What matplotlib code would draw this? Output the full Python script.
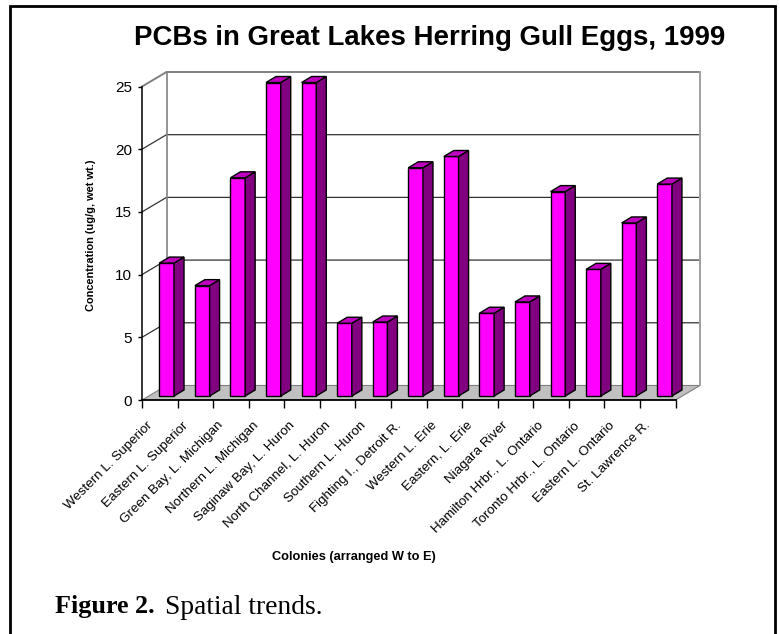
import numpy as np
import matplotlib
matplotlib.use("Agg")
import matplotlib.pyplot as plt
from matplotlib.lines import Line2D

colonies = ["Western L. Superior", "Eastern L. Superior", "Green Bay, L. Michigan",
            "Northern L. Michigan", "Saginaw Bay, L. Huron", "North Channel, L. Huron",
            "Southern L. Huron", "Fighting I., Detroit R.", "Western L. Erie",
            "Eastern, L. Erie", "Niagara River", "Hamilton Hrbr., L. Ontario",
            "Toronto Hrbr., L. Ontario", "Eastern L. Ontario", "St. Lawrence R."]
pcb = [10.6, 8.8, 17.4, 25.0, 25.0, 5.8, 5.9, 18.2, 19.1, 6.6, 7.5, 16.3, 10.1, 13.8, 16.9]
yticks = [0, 5, 10, 15, 20, 25]

W, H = 780, 634
plt.rcParams["font.family"] = ["Liberation Sans", "DejaVu Sans"]

fig = plt.figure(figsize=(W / 100, H / 100), dpi=100)
# axes box in pixels: x=0 at 142, y=0 at 400, back wall ends at 700 and 72
ax = fig.add_axes([142 / W, 1 - 400 / H, (700 - 142) / W, (400 - 72) / H])

n = len(pcb)
px_x = 533.5 / n          # pixels per category
px_y = 313 / 25           # pixels per unit
wall_dx = 24.5 / px_x     # depth of the box
wall_dy = 14.5 / px_y
ax.set_xlim(0, n + wall_dx)
ax.set_ylim(0, 25 + wall_dy)
ax.patch.set_visible(False)

# floor
ax.fill([0, n, n + wall_dx, wall_dx], [0, 0, wall_dy, wall_dy],
        facecolor="#c0c0c0", edgecolor="#808080", lw=0.8, zorder=1)

# walls and grid
for t in yticks[1:]:
    c = "#808080" if t == 25 else "#333333"
    lw = 1.4 if t == 25 else 0.9
    ax.plot([0, wall_dx, n + wall_dx], [t, t + wall_dy, t + wall_dy], color=c, lw=lw, zorder=1,
            clip_on=False, solid_joinstyle="miter")
ax.plot([wall_dx, wall_dx], [wall_dy, 25 + wall_dy], color="#808080", lw=1.2, zorder=1)
ax.plot([n + wall_dx, n + wall_dx], [wall_dy, 25 + wall_dy], color="#a0a0a0", lw=1.4, zorder=1,
        clip_on=False)

# bars
bar_w = 14.7 / px_x
bar_dx = 10 / px_x
bar_dy = 6 / px_y
x0 = 0.487
y0 = 4 / px_y
for i, v in enumerate(pcb):
    l = i + x0
    r = l + bar_w
    top = y0 + v
    ax.fill([l, r, r, l], [y0, y0, top, top], facecolor="#ff00ff", edgecolor="black", lw=1, zorder=3)
    ax.fill([r, r + bar_dx, r + bar_dx, r], [y0, y0 + bar_dy, top + bar_dy, top],
            facecolor="#800080", edgecolor="black", lw=1, zorder=3)
    ax.fill([l, r, r + bar_dx, l + bar_dx], [top, top, top + bar_dy, top + bar_dy],
            facecolor="#c000c0", edgecolor="black", lw=1, zorder=3)

# axes
for s in ["top", "right"]:
    ax.spines[s].set_visible(False)
ax.spines["left"].set_bounds(0, 25)
ax.spines["bottom"].set_bounds(0, n)
ax.spines["left"].set_linewidth(1.1)
ax.spines["bottom"].set_linewidth(1.3)
ax.spines["left"].set_zorder(4)
ax.spines["bottom"].set_zorder(4)
ax.set_yticks(yticks)
ax.tick_params(axis="y", length=3, width=1, labelsize=11, pad=4)
ax.set_xticks(np.arange(n + 1))
ax.set_xticklabels([])
ax.tick_params(axis="x", which="major", length=5.5, width=1)
ax.set_xticks(np.arange(n) + 0.12, colonies, minor=True, rotation=45, ha="right",
              rotation_mode="anchor", fontsize=9.6)
ax.tick_params(axis="x", which="minor", length=0, pad=14)

fig.text(429.5 / W, 1 - 38 / H, "PCBs in Great Lakes Herring Gull Eggs, 1999", fontsize=19.9,
         fontweight="bold", ha="center", va="center")
fig.text(91 / W, 1 - 235 / H, "Concentration (ug/g, wet wt.)", fontsize=7.9, fontweight="bold",
         rotation=90, ha="center", va="center")
fig.text(354 / W, 1 - 557 / H, "Colonies (arranged W to E)", fontsize=9.2, fontweight="bold",
         ha="center", va="center")

# caption under the chart
fig.text(55 / W, 1 - 613.5 / H, "Figure 2.", fontsize=18.8, fontweight="bold",
         family=["Liberation Serif", "DejaVu Serif"], ha="left", va="baseline")
fig.text(165 / W, 1 - 613.5 / H, "Spatial trends.", fontsize=19.8,
         family=["Liberation Serif", "DejaVu Serif"], ha="left", va="baseline")

# frame, open at the bottom
fig.add_artist(Line2D([10 / W, 10 / W, 775 / W, 775 / W],
                      [0, 1 - 6 / H, 1 - 6 / H, 0], transform=fig.transFigure,
                      color="black", lw=2, solid_joinstyle="miter"))

fig.savefig("out.png", dpi=100)
